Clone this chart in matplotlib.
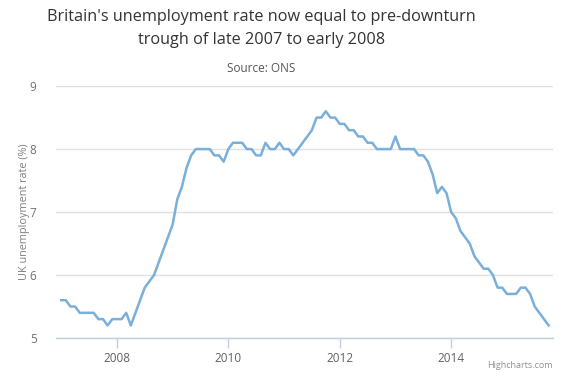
import matplotlib
matplotlib.use("Agg")
import matplotlib.pyplot as plt

plt.rcParams['font.family'] = ['Open Sans', 'DejaVu Sans']

title = "Britain's unemployment rate now equal to pre-downturn\ntrough of late 2007 to early 2008"
subtitle = "Source: ONS"
ylabel = "UK unemployment rate (%)"

start_year = 2007
# monthly rate, Jan 2007 .. Oct 2015
rate = [5.6, 5.6, 5.5, 5.5, 5.4, 5.4, 5.4, 5.4, 5.3, 5.3, 5.2, 5.3,
        5.3, 5.3, 5.4, 5.2, 5.4, 5.6, 5.8, 5.9, 6.0, 6.2, 6.4, 6.6,
        6.8, 7.2, 7.4, 7.7, 7.9, 8.0, 8.0, 8.0, 8.0, 7.9, 7.9, 7.8,
        8.0, 8.1, 8.1, 8.1, 8.0, 8.0, 7.9, 7.9, 8.1, 8.0, 8.0, 8.1,
        8.0, 8.0, 7.9, 8.0, 8.1, 8.2, 8.3, 8.5, 8.5, 8.6, 8.5, 8.5,
        8.4, 8.4, 8.3, 8.3, 8.2, 8.2, 8.1, 8.1, 8.0, 8.0, 8.0, 8.0,
        8.2, 8.0, 8.0, 8.0, 8.0, 7.9, 7.9, 7.8, 7.6, 7.3, 7.4, 7.3,
        7.0, 6.9, 6.7, 6.6, 6.5, 6.3, 6.2, 6.1, 6.1, 6.0, 5.8, 5.8,
        5.7, 5.7, 5.7, 5.8, 5.8, 5.7, 5.5, 5.4, 5.3, 5.2]
x_ticks = [2008, 2010, 2012, 2014]
y_ticks = [5, 6, 7, 8, 9]

years = [start_year + i / 12 for i in range(len(rate))]

fig = plt.figure(figsize=(5.64, 3.76), dpi=100)
ax = fig.add_axes([0.0993, 0.101, 0.8812, 0.670])

ax.plot(years, rate, color='#7aafd9', lw=1.8, solid_joinstyle='round')

ax.set_xlim(2006.907, 2015.828)
ax.set_ylim(5, 9)
ax.set_yticks(y_ticks)
ax.set_xticks(x_ticks)
ax.set_xticklabels([str(t) for t in x_ticks])
ax.grid(axis='y', color='#e0e0e0', lw=1)
ax.set_axisbelow(True)
for s in ['top', 'right', 'left']:
    ax.spines[s].set_visible(False)
ax.spines['bottom'].set_color('#c0d0e0')
ax.spines['bottom'].set_linewidth(1)
ax.tick_params(axis='x', colors='#c0d0e0', length=7, width=1, labelcolor='#606060',
               labelsize=8.5, pad=3)
ax.tick_params(axis='y', length=0, labelcolor='#707070', labelsize=8.5, pad=14)
ax.set_ylabel(ylabel, color='#808080', fontsize=7.8, labelpad=0)

fig.text(0.463, 0.975, title, ha='center', va='top', fontsize=11.7, color='#333333',
         linespacing=1.55)
fig.text(0.463, 0.818, subtitle, ha='center', va='center', fontsize=8.5, color='#555555')
fig.text(0.98, 0.015, "Highcharts.com", ha='right', va='bottom', fontsize=6.5,
         color='#909090')

fig.savefig('out.png', dpi=100)
